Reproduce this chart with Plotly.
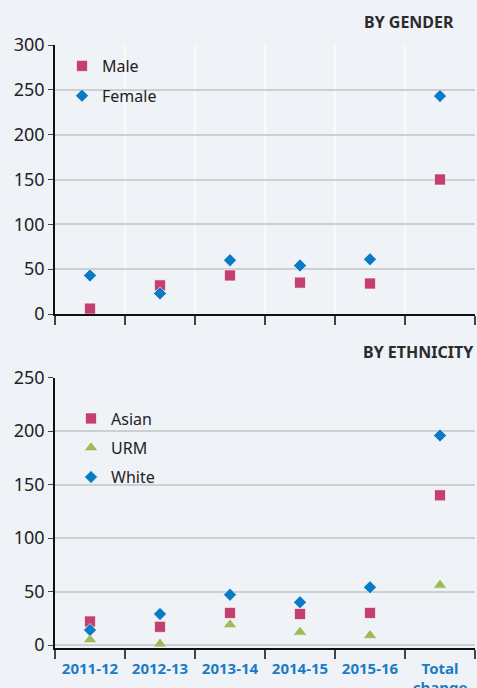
import plotly.graph_objects as go
from plotly.subplots import make_subplots

# categories (x axis)
years = ['2011-12', '2012-13', '2013-14', '2014-15', '2015-16', 'Total<br>change']

# by gender
male = [6, 32, 43, 35, 34, 150]
female = [43, 23, 60, 54, 61, 243]

# by ethnicity
asian = [22, 17, 30, 29, 30, 140]
urm = [5, 1, 19, 12, 9, 56]
white = [14, 29, 47, 40, 54, 196]

PINK = '#c4406f'
BLUE = '#0a7ac4'
GREEN = '#9cbb59'
EDGE = dict(width=1, color='rgba(255,255,255,0.6)')
W, H = 477, 688

fig = make_subplots(rows=2, cols=1)

fig.add_trace(go.Scatter(x=years, y=male, name='Male', mode='markers', legend='legend',
                         legendgroup='m', marker=dict(symbol='square', size=11, color=PINK, line=EDGE),
                         cliponaxis=False), row=1, col=1)
fig.add_trace(go.Scatter(x=years, y=female, name='Female', mode='markers', legend='legend',
                         legendgroup='f', marker=dict(symbol='diamond', size=10, color=BLUE, line=EDGE),
                         cliponaxis=False), row=1, col=1)

fig.add_trace(go.Scatter(x=years, y=asian, name='Asian', mode='markers', legend='legend2',
                         legendgroup='a', marker=dict(symbol='square', size=11, color=PINK, line=EDGE),
                         cliponaxis=False), row=2, col=1)
fig.add_trace(go.Scatter(x=years, y=urm, name='URM', mode='markers', legend='legend2',
                         legendgroup='u', marker=dict(symbol='triangle-up', size=12, color=GREEN, line=EDGE),
                         cliponaxis=False), row=2, col=1)
fig.add_trace(go.Scatter(x=years, y=white, name='White', mode='markers', legend='legend2',
                         legendgroup='w', marker=dict(symbol='diamond', size=10, color=BLUE, line=EDGE),
                         cliponaxis=False), row=2, col=1)


# pixel helpers for domains
def px_x(p):
    return p / W


def px_y(p):
    return 1 - p / H


xcommon = dict(
    type='category', automargin=False,
    domain=[px_x(55), px_x(475)], range=[-0.5, 5.5], tickson='boundaries',
    ticks='outside', ticklen=9, tickwidth=1.5, tickcolor='#444',
    showline=True, linecolor='#111', linewidth=1.5,
)
ycommon = dict(
    automargin=False,
    ticks='outside', ticklen=5, tickwidth=1.2, tickcolor='#444',
    showline=True, linecolor='#111', linewidth=1.5,
    gridcolor='#cdd0d3', gridwidth=2, zeroline=False,
    tickfont=dict(family='Noto Sans', size=18, color='#222'),
)

fig.update_xaxes(showticklabels=False, showgrid=True, gridcolor='rgba(255,255,255,0.6)',
                 gridwidth=2, **xcommon, row=1, col=1)
fig.update_xaxes(showticklabels=True, showgrid=False, ticklabelstandoff=6, tickangle=0,
                 tickfont=dict(family='Noto Sans', size=15, color='#1a7cc4', weight='bold'),
                 **xcommon, row=2, col=1)
fig.update_yaxes(domain=[px_y(314), px_y(45)], range=[0, 300], dtick=50, **ycommon, row=1, col=1)
fig.update_yaxes(domain=[px_y(648), px_y(377.7)], range=[-2.8, 250], dtick=50, **ycommon, row=2, col=1)

legend_font = dict(family='Noto Sans', size=16, color='#222')
fig.update_layout(
    width=W, height=H,
    margin=dict(l=0, r=0, t=0, b=0),
    paper_bgcolor='#eff3f8',
    plot_bgcolor='rgba(0,0,0,0)',
    font=dict(family='Noto Sans'),
    legend=dict(x=px_x(62), y=px_y(49), xanchor='left', yanchor='top', bgcolor='rgba(0,0,0,0)',
                font=legend_font, tracegroupgap=6),
    legend2=dict(x=px_x(71), y=px_y(401.5), xanchor='left', yanchor='top', bgcolor='rgba(0,0,0,0)',
                 font=legend_font, tracegroupgap=5.5),
    annotations=[
        dict(text='<b>BY GENDER</b>', x=px_x(456), y=px_y(22), xref='paper', yref='paper',
             xanchor='right', yanchor='middle', showarrow=False,
             font=dict(family='Noto Sans', size=16, color='#2b2b2b')),
        dict(text='<b>BY ETHNICITY</b>', x=px_x(476), y=px_y(352), xref='paper', yref='paper',
             xanchor='right', yanchor='middle', showarrow=False,
             font=dict(family='Noto Sans', size=16, color='#2b2b2b')),
    ],
)

# drop the default page margin so the figure fills the window exactly
fig.write_html('out.html', config={'displayModeBar': False},
               post_script="document.body.style.margin='0';")
